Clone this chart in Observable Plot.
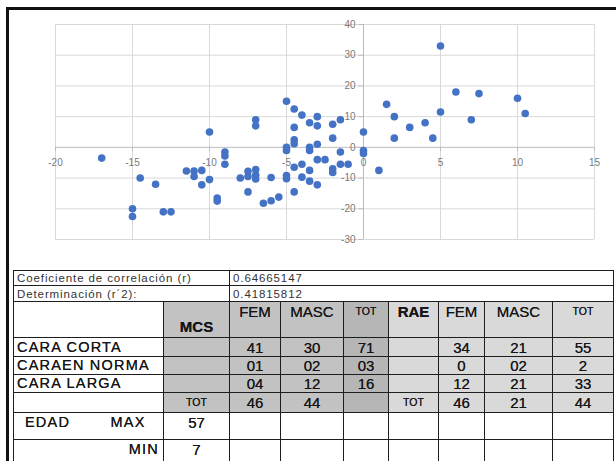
<!DOCTYPE html>
<html><head><meta charset="utf-8">
<script src="https://cdn.jsdelivr.net/npm/d3@7"></script>
<script src="https://cdn.jsdelivr.net/npm/@observablehq/plot@0.6"></script>
<style>
body{margin:0;width:616px;height:461px;overflow:hidden;background:#fff;position:relative;font-family:"Liberation Sans",Arial,sans-serif;}
#frame{position:absolute;left:6px;top:7px;width:700px;height:500px;border-left:3px solid #111;border-top:3px solid #111;}
#chart{position:absolute;left:0;top:0;}
table{position:absolute;left:13px;top:270px;border-collapse:collapse;table-layout:fixed;width:600px;}
td{border:1.6px solid #1e1e1e;padding:0;color:#151515;overflow:hidden;white-space:nowrap;text-align:center;font-size:15px;line-height:15px;text-shadow:0 0 0.6px #333;}
td.sm{font-size:11.5px;text-align:left;padding-left:3px;color:#333;letter-spacing:0.9px;line-height:12px;text-shadow:none;}
td.lab{text-align:left;padding-left:3px;font-size:14.5px;letter-spacing:1.2px;}
td.g{background:#c2c2c2;}
td.gd{background:#b6b6b6;}
td.l{background:#d9d9d9;}
td.top{vertical-align:top;padding-top:2px;}
td.bot{vertical-align:bottom;padding-bottom:3px;}
.b{font-weight:bold;}
.tot{font-size:10.5px;}
</style></head>
<body>
<div id="frame"></div>
<div id="chart"></div>
<table id="tbl"></table>
<script>
// scatter data
const xs = [-17,-14.5,-13.5,-15,-15,-13,-12.5,-11.5,-11,-10.5,-11,-10.5,-10,-10,-9.5,-9.5,-9,-9,-9,-8,-7.5,-7.5,-7,-7.5,-7,-7,-7,-7,-6,-6.5,-6,-5.5,-5,-5,-5,-5,-5,-4.5,-4.5,-4.5,-4.5,-4.5,-4.5,-4,-4,-4,-3.5,-3.5,-3.5,-3.5,-3.5,-3,-3,-3,-3,-2.5,-3,-2,-2,-1.5,-1.5,-2,-2,-1.5,-1,0,0,0,1,1.5,2,2,3,4,4.5,5,5,6,7,7.5,10,10.5];
const ys = [-3.5,-10,-12,-20,-22.5,-21,-21,-7.7,-7.7,-7.5,-9.5,-12.2,-10.5,5,-16.5,-17.5,-1.5,-2.8,-5.5,-10,-14.5,-7.8,-7.2,-9.5,-9,-10.3,9,7,-9.8,-18.2,-17.4,-16.2,15,0,-1,-9.2,-10.2,12.5,6.5,2.5,1.2,-6.5,-14.5,10.5,-5.5,-9.7,8,0,-1,-7.5,-11,10,7,1,-4,-4,-12.2,7.5,3,9,-1.5,-7,-8.2,-5.5,-5.5,5,-1,-2,-7.5,14,10,3,6.5,8,3,33,11.5,18,9,17.5,16,11];
const xTicks = [-20,-15,-10,-5,0,5,10,15];
const yTicks = [-30,-20,-10,0,10,20,30,40];

// table data
const statLabels = ["Coeficiente de correlación (r)", "Determinación (r´2):"];
const statValues = ["0.64665147", "0.41815812"];
const groupHeads = ["MCS", "RAE"];
const colHeads = ["FEM", "MASC", "TOT"];
const rowLabels = ["CARA CORTA", "CARAEN NORMA", "CARA LARGA"];
const mcsVals = [["41","30","71"],["01","02","03"],["04","12","16"]];
const raeVals = [["34","21","55"],["0","02","2"],["12","21","33"]];
const mcsTot = ["46","44",""];
const raeTot = ["46","21","44"];
const totLabel = "TOT";
const edadLabel = "EDAD";
const edadMax = ["MAX","57"];
const edadMin = ["MIN","7"];

const pts = xs.map((x,i)=>({x, y: ys[i]}));
const chart = Plot.plot({
  width: 616, height: 262,
  marginLeft: 55, marginRight: 22, marginTop: 24, marginBottom: 23,
  x: {domain: [-20, 15], axis: null},
  y: {domain: [-30, 40], axis: null},
  style: {background: "transparent", fontFamily: "Liberation Sans, Arial, sans-serif"},
  marks: [
    Plot.ruleX(xTicks.filter(d => d !== 0), {x: d => d, stroke: "#d9d9d9", strokeOpacity: 1}),
    Plot.ruleY(yTicks.filter(d => d !== 0), {y: d => d, stroke: "#d9d9d9", strokeOpacity: 1}),
    Plot.ruleX([0], {x: d => d, stroke: "#bcbcbc", strokeOpacity: 1}),
    Plot.ruleY([0], {y: d => d, stroke: "#bcbcbc", strokeOpacity: 1}),
    Plot.ruleY(yTicks, {y: d => d, x1: d => -0.3, x2: d => 0, stroke: "#bcbcbc"}),
    Plot.ruleX(xTicks, {x: d => d, y1: d => -1.3, y2: d => 0, stroke: "#bcbcbc"}),
    Plot.text(yTicks, {x: d => 0, y: d => d, text: d => String(d), dx: -8, textAnchor: "end", fill: "#7a7a7a", fontSize: 10}),
    Plot.text(xTicks, {x: d => d, y: d => 0, text: d => String(d), dy: 15, fill: "#7a7a7a", fontSize: 10}),
    Plot.dot(pts, {x: "x", y: "y", r: 3.8, fill: "#4472c4", stroke: "none"})
  ]
});
document.getElementById("chart").appendChild(chart);

// table
const widths = [150,66,51,63,45,50,46,68,61];
const heights = [15,16,36,19,18,18,20,27,26];
let h = "<colgroup>" + widths.map(w => `<col style="width:${w}px">`).join("") + "</colgroup>";
h += `<tr style="height:${heights[0]}px"><td class="sm" colspan="2">${statLabels[0]}</td><td class="sm" colspan="7">${statValues[0]}</td></tr>`;
h += `<tr style="height:${heights[1]}px"><td class="sm" colspan="2">${statLabels[1]}</td><td class="sm" colspan="7">${statValues[1]}</td></tr>`;
h += `<tr style="height:${heights[2]}px"><td></td><td class="g bot b">${groupHeads[0]}</td>` +
  `<td class="g top">${colHeads[0]}</td><td class="g top">${colHeads[1]}</td><td class="gd top tot">${colHeads[2]}</td>` +
  `<td class="l top b">${groupHeads[1]}</td><td class="l top">${colHeads[0]}</td><td class="l top">${colHeads[1]}</td><td class="l top tot">${colHeads[2]}</td></tr>`;
rowLabels.forEach((lab, i) => {
  h += `<tr style="height:${heights[3+i]}px"><td class="lab">${lab}</td><td class="g"></td>` +
    `<td class="g">${mcsVals[i][0]}</td><td class="g">${mcsVals[i][1]}</td><td class="gd">${mcsVals[i][2]}</td>` +
    `<td class="l"></td><td class="l">${raeVals[i][0]}</td><td class="l">${raeVals[i][1]}</td><td class="l">${raeVals[i][2]}</td></tr>`;
});
h += `<tr style="height:${heights[6]}px"><td></td><td class="g tot">${totLabel}</td>` +
  `<td class="g">${mcsTot[0]}</td><td class="g">${mcsTot[1]}</td><td class="gd">${mcsTot[2]}</td>` +
  `<td class="l tot">${totLabel}</td><td class="l">${raeTot[0]}</td><td class="l">${raeTot[1]}</td><td class="l">${raeTot[2]}</td></tr>`;
h += `<tr style="height:${heights[7]}px"><td class="lab top"><span style="position:relative;left:8px">${edadLabel}</span><span style="position:absolute;left:97px">${edadMax[0]}</span></td><td class="top">${edadMax[1]}</td><td></td><td></td><td></td><td></td><td></td><td></td><td></td></tr>`;
h += `<tr style="height:${heights[8]}px"><td class="lab top" style="text-align:right;padding-right:4px">${edadMin[0]}</td><td class="top">${edadMin[1]}</td><td></td><td></td><td></td><td></td><td></td><td></td><td></td></tr>`;
document.getElementById("tbl").innerHTML = h;
</script>
</body></html>
